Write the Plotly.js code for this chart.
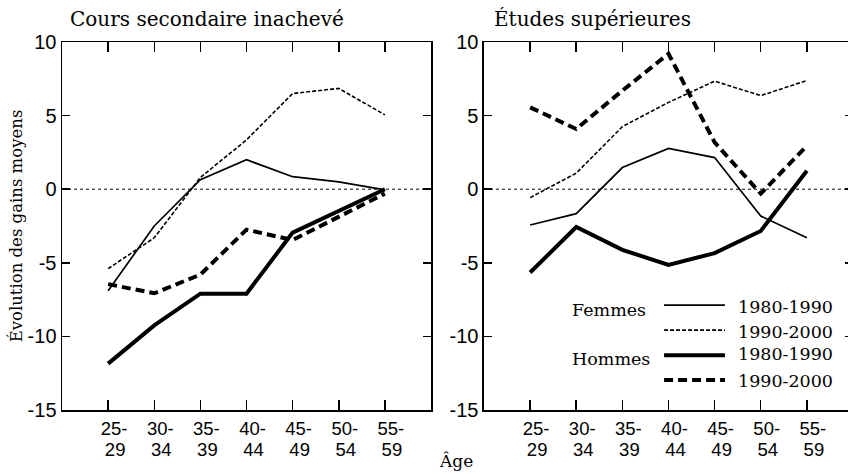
<!DOCTYPE html>
<html>
<head>
<meta charset="utf-8">
<script src="https://cdn.plot.ly/plotly-3.0.1.min.js"></script>
<style>
html, body { margin: 0; padding: 0; overflow: hidden; background: #fff; }
#chart { width: 853px; height: 474px; }
</style>
</head>
<body>
<div id="chart"></div>
<script>
// ---- Data ----
const ageGroups = ["25-29", "30-34", "35-39", "40-44", "45-49", "50-54", "55-59"];
const tickTop = ["25-", "30-", "35-", "40-", "45-", "50-", "55-"];
const tickBottom = ["29", "34", "39", "44", "49", "54", "59"];
const yTickVals = [-15, -10, -5, 0, 5, 10];
const yTickText = ["-15", "-10", "-5", "0", "5", "10"];

// Cours secondaire inachevé
const secFemmes8090 = [-6.9, -2.5, 0.65, 2.0, 0.85, 0.5, -0.05];
const secFemmes9000 = [-5.4, -3.3, 0.8, 3.35, 6.5, 6.85, 5.05];
const secHommes8090 = [-11.85, -9.25, -7.1, -7.1, -2.95, -1.5, 0.0];
const secHommes9000 = [-6.45, -7.07, -5.8, -2.75, -3.45, -1.85, -0.3];

// Études supérieures
const supFemmes8090 = [-2.43, -1.66, 1.47, 2.77, 2.15, -1.82, -3.3];
const supFemmes9000 = [-0.57, 1.09, 4.25, 5.9, 7.34, 6.36, 7.38];
const supHommes8090 = [-5.66, -2.57, -4.12, -5.14, -4.34, -2.84, 1.25];
const supHommes9000 = [5.56, 4.09, 6.7, 9.2, 3.18, -0.3, 2.95];

const tickVals = ageGroups.map((_, i) => i);
const xIdx = ageGroups.map((_, i) => i);

// ---- Styles ----
const styles = {
  f8090: {color: "#000", width: 1.7, dash: "solid"},
  f9000: {color: "#000", width: 1.6, dash: "4px,2px"},
  h8090: {color: "#000", width: 4, dash: "solid"},
  h9000: {color: "#000", width: 4, dash: "9px,5px"}
};

function tr(y, st, xa, ya, name) {
  return {x: xIdx, y: y, type: "scatter", mode: "lines", line: st, xaxis: xa, yaxis: ya,
          name: name, showlegend: false, hoverinfo: "skip"};
}
// invisible carrier so the second-row tick-label axes get drawn
function carrier(xa, ya) {
  return {x: xIdx, y: xIdx.map(() => 0), type: "scatter", mode: "lines", xaxis: xa, yaxis: ya,
          line: {width: 0, color: "rgba(0,0,0,0)"}, opacity: 0, showlegend: false, hoverinfo: "skip"};
}

const data = [
  tr(secFemmes8090, styles.f8090, "x", "y", "Femmes 1980-1990"),
  tr(secFemmes9000, styles.f9000, "x", "y", "Femmes 1990-2000"),
  tr(secHommes9000, styles.h9000, "x", "y", "Hommes 1990-2000"),
  tr(secHommes8090, styles.h8090, "x", "y", "Hommes 1980-1990"),
  tr(supFemmes8090, styles.f8090, "x2", "y2", "Femmes 1980-1990"),
  tr(supFemmes9000, styles.f9000, "x2", "y2", "Femmes 1990-2000"),
  tr(supHommes9000, styles.h9000, "x2", "y2", "Hommes 1990-2000"),
  tr(supHommes8090, styles.h8090, "x2", "y2", "Hommes 1980-1990"),
  carrier("x3", "y"),
  carrier("x4", "y2")
];

const serif = "DejaVu Serif, serif";
const sans = "Liberation Sans, Arial, sans-serif";

function xAxis(domain, anchor) {
  return {
    domain: domain, anchor: anchor, range: [-1, 7],
    tickmode: "array", tickvals: tickVals, ticktext: tickTop,
    ticks: "inside", ticklen: 10, tickwidth: 1.5, tickcolor: "#000",
    showline: true, linewidth: 1.5, linecolor: "#000", mirror: "ticks",
    showgrid: false, zeroline: false,
    tickfont: {family: sans, size: 18.5, color: "#000"},
    ticklabelshift: 6, ticklabelstandoff: 1, fixedrange: true
  };
}
function xAxisRow2(domain, anchor, overlay) {
  return {
    domain: domain, anchor: anchor, overlaying: overlay, side: "bottom", range: [-1, 7],
    tickmode: "array", tickvals: tickVals, ticktext: tickBottom,
    ticks: "", showline: false, showgrid: false, zeroline: false,
    tickfont: {family: sans, size: 18.5, color: "#000"},
    ticklabelshift: 7, ticklabelstandoff: 26, fixedrange: true
  };
}
function yAxis(anchor, withTitle) {
  const a = {
    anchor: anchor, domain: [0, 1], range: [-15, 10],
    tickmode: "array", tickvals: yTickVals, ticktext: yTickText,
    ticks: "inside", ticklen: 8, tickwidth: 1.5, tickcolor: "#000",
    showline: true, linewidth: 1.5, linecolor: "#000", mirror: "ticks",
    showgrid: false, zeroline: false,
    tickfont: {family: sans, size: 20, color: "#000"},
    ticklabelstandoff: 0, fixedrange: true
  };
  if (withTitle) {
    a.title = {text: "Évolution des gains moyens", font: {family: serif, size: 16.5, color: "#000"}, standoff: 1};
  }
  return a;
}

const legendRows = [
  {y: 0.285, st: styles.f8090, label: "1980-1990"},
  {y: 0.217, st: styles.f9000, label: "1990-2000"},
  {y: 0.149, st: styles.h8090, label: "1980-1990"},
  {y: 0.0815, st: styles.h9000, label: "1990-2000"}
];

const shapes = [
  {type: "line", xref: "x domain", yref: "y", x0: 0, x1: 1, y0: 0, y1: 0, layer: "below",
   line: {color: "#000", width: 1, dash: "dot"}},
  {type: "line", xref: "x2 domain", yref: "y2", x0: 0, x1: 1, y0: 0, y1: 0, layer: "below",
   line: {color: "#000", width: 1, dash: "dot"}}
];
legendRows.forEach(r => shapes.push({
  type: "line", xref: "x2 domain", yref: "y2 domain", x0: 0.488, x1: 0.653, y0: r.y, y1: r.y,
  line: r.st
}));

const annotations = [
  {text: "Cours secondaire inachevé", xref: "paper", yref: "paper", x: 0.0076, y: 1.062,
   xanchor: "left", yanchor: "middle", showarrow: false, font: {family: serif, size: 20, color: "#000"}},
  {text: "Études supérieures", xref: "x2 domain", yref: "paper", x: 0.022, y: 1.062,
   xanchor: "left", yanchor: "middle", showarrow: false, font: {family: serif, size: 20, color: "#000"}},
  {text: "Âge", xref: "paper", yref: "paper", x: 0.4975, y: -0.139,
   xanchor: "center", yanchor: "middle", showarrow: false, font: {family: serif, size: 17, color: "#000"}},
  {text: "Femmes", xref: "x2 domain", yref: "y2 domain", x: 0.232, y: 0.272,
   xanchor: "left", yanchor: "middle", showarrow: false, font: {family: serif, size: 17.5, color: "#000"}},
  {text: "Hommes", xref: "x2 domain", yref: "y2 domain", x: 0.232, y: 0.1386,
   xanchor: "left", yanchor: "middle", showarrow: false, font: {family: serif, size: 17.5, color: "#000"}}
];
const legendTextY = [0.280, 0.212, 0.152, 0.079];
legendRows.forEach((r, i) => annotations.push({
  text: r.label, xref: "x2 domain", yref: "y2 domain", x: 0.683, y: legendTextY[i],
  xanchor: "left", yanchor: "middle", showarrow: false, font: {family: serif, size: 17.5, color: "#000"}
}));

const layout = {
  width: 853, height: 474,
  margin: {l: 62, r: 0, t: 42, b: 64, pad: 0},
  paper_bgcolor: "#fff", plot_bgcolor: "#fff",
  showlegend: false,
  xaxis: xAxis([0, 0.4665], "y"),
  yaxis: yAxis("x", true),
  xaxis2: xAxis([0.5335, 1], "y2"),
  yaxis2: yAxis("x2", false),
  xaxis3: xAxisRow2([0, 0.4665], "y", "x"),
  xaxis4: xAxisRow2([0.5335, 1], "y2", "x2"),
  shapes: shapes,
  annotations: annotations
};

Plotly.newPlot("chart", data, layout, {staticPlot: true, displayModeBar: false});
</script>
</body>
</html>
